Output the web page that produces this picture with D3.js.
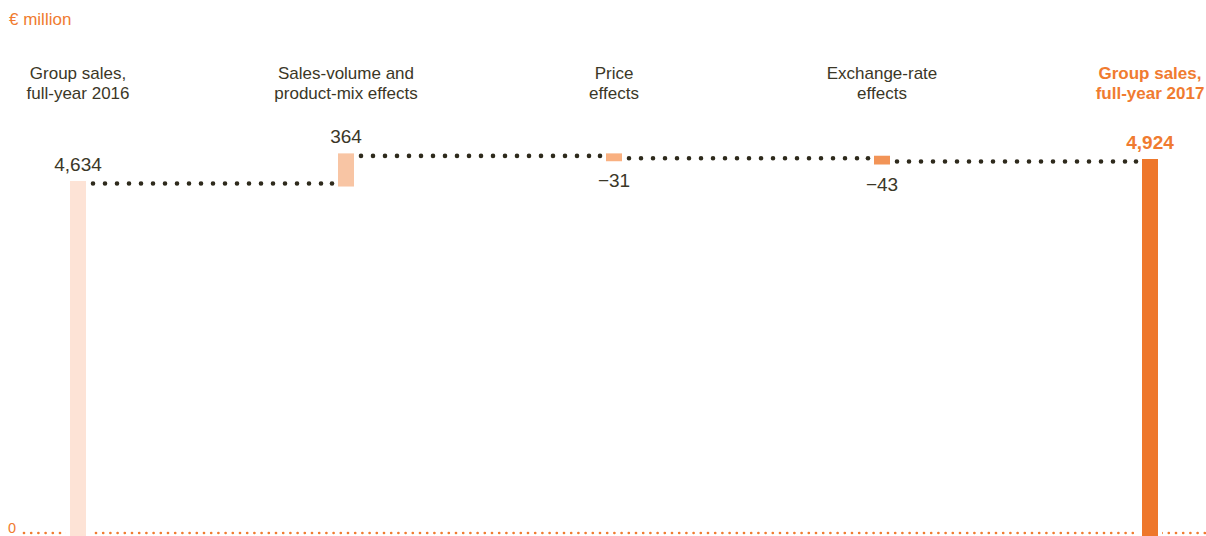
<!DOCTYPE html>
<html>
<head>
<meta charset="utf-8">
<script src="https://cdn.jsdelivr.net/npm/d3@7"></script>
<style>
  body { margin: 0; background: #fff; }
  svg { display: block; font-family: "Liberation Sans", Arial, sans-serif; }
</style>
</head>
<body>
<div id="chart"></div>
<script>
// data
const categories = ['start', 'volume', 'price', 'fx', 'end'];
const labelLines = [
  ['Group sales,', 'full-year 2016'],
  ['Sales-volume and', 'product-mix effects'],
  ['Price', 'effects'],
  ['Exchange-rate', 'effects'],
  ['Group sales,', 'full-year 2017']
];
const values = [4634, 364, -31, -43, 4924];
const isTotal = [true, false, false, false, true];
const valueLabels = ['4,634', '364', '\u221231', '\u221243', '4,924'];
const barColors = ['#fde3d6', '#f8c5a4', '#f9b080', '#f29457', '#ee772b'];

const W = 1206, H = 536;
const ink = '#3b3727';
const orange = '#f07b30';
const barW = 16;

const svg = d3.select('#chart')
  .append('svg')
  .attr('width', W)
  .attr('height', H);

const x = d3.scalePoint()
  .domain(categories)
  .range([78, 1150]);

const y = d3.scaleLinear()
  .domain([0, 4924])
  .range([533, 159]);

// running totals
let run = 0;
const bars = categories.map((c, i) => {
  let start, end;
  if (isTotal[i]) { start = 0; end = values[i]; run = values[i]; }
  else { start = run; end = run + values[i]; run = end; }
  return { c, i, start, end, total: isTotal[i] };
});

// baseline (dotted orange)
svg.append('line')
  .attr('x1', 24).attr('x2', W)
  .attr('y1', y(0)).attr('y2', y(0))
  .attr('stroke', orange)
  .attr('stroke-width', 2.7)
  .attr('stroke-linecap', 'round')
  .attr('stroke-dasharray', '0,7.2');

svg.append('text')
  .attr('x', 8).attr('y', y(0) - 0.5)
  .attr('fill', orange)
  .attr('font-size', 14.5)
  .text('0');

// knock-outs round the totals on the baseline
svg.selectAll('.gap')
  .data(bars.filter(d => d.total))
  .enter()
  .append('rect')
  .attr('x', d => x(d.c) - barW / 2 - 4)
  .attr('width', barW + 8)
  .attr('y', y(0) - 4)
  .attr('height', 10)
  .attr('fill', '#fff');

// connectors
const links = bars.slice(0, -1).map((d, i) => ({
  x1: x(d.c) + barW / 2 + 7,
  x2: x(bars[i + 1].c) - barW / 2 - 6,
  v: d.end
}));

svg.selectAll('.link')
  .data(links)
  .enter()
  .append('line')
  .attr('class', 'link')
  .attr('x1', d => d.x1).attr('x2', d => d.x2)
  .attr('y1', d => y(d.v) + 2.5).attr('y2', d => y(d.v) + 2.5)
  .attr('stroke', '#2e2a1c')
  .attr('stroke-width', 4.6)
  .attr('stroke-linecap', 'round')
  .attr('stroke-dasharray', '0,12');

svg.selectAll('.linkEnd')
  .data(links)
  .enter()
  .append('circle')
  .attr('cx', d => d.x2)
  .attr('cy', d => y(d.v) + 2.5)
  .attr('r', 2.3)
  .attr('fill', '#2e2a1c');

// bars
svg.selectAll('.bar')
  .data(bars)
  .enter()
  .append('rect')
  .attr('class', 'bar')
  .attr('x', d => x(d.c) - barW / 2)
  .attr('width', barW)
  .attr('y', d => y(Math.max(d.start, d.end)))
  .attr('height', d => d.total
    ? y(0) + 4 - y(d.end)
    : y(Math.min(d.start, d.end)) - y(Math.max(d.start, d.end)) + 5.5)
  .attr('fill', (d, i) => barColors[i]);

// value labels
svg.selectAll('.val')
  .data(bars)
  .enter()
  .append('text')
  .attr('class', 'val')
  .attr('x', d => x(d.c))
  .attr('y', d => {
    if (d.end >= d.start || d.total) return y(Math.max(d.start, d.end)) - 10.5;
    return y(d.end) + 5.5 + 26;
  })
  .attr('text-anchor', 'middle')
  .attr('font-size', 19)
  .attr('font-weight', d => d.i === 4 ? 'bold' : 'normal')
  .attr('fill', d => d.i === 4 ? orange : ink)
  .text(d => valueLabels[d.i]);

// category labels
const cat = svg.selectAll('.cat')
  .data(bars)
  .enter()
  .append('text')
  .attr('class', 'cat')
  .attr('x', d => x(d.c))
  .attr('y', 78.5)
  .attr('text-anchor', 'middle')
  .attr('font-size', 17)
  .attr('font-weight', d => d.i === 4 ? 'bold' : 'normal')
  .attr('fill', d => d.i === 4 ? orange : ink);

cat.selectAll('tspan')
  .data(d => labelLines[d.i].map(t => ({ t, c: d.c })))
  .enter()
  .append('tspan')
  .attr('x', d => x(d.c))
  .attr('dy', (d, j) => j === 0 ? 0 : 20.5)
  .text(d => d.t);

// unit
svg.append('text')
  .attr('x', 9).attr('y', 25)
  .attr('fill', orange)
  .attr('font-size', 17)
  .text('\u20ac million');
</script>
</body>
</html>
